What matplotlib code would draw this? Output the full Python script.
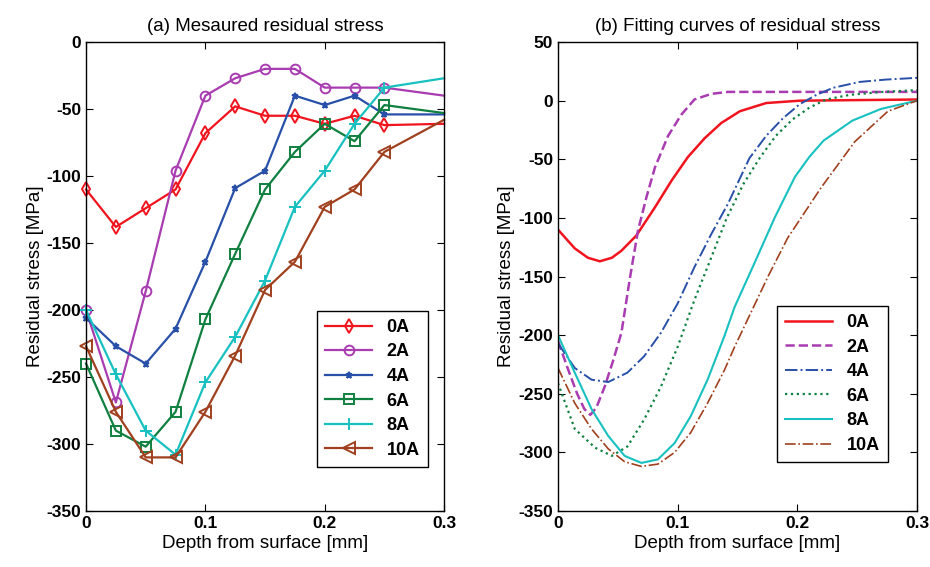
import numpy as np
import matplotlib
matplotlib.use('Agg')
import matplotlib.pyplot as plt

plt.rcParams['font.family'] = ['Liberation Sans', 'DejaVu Sans']
plt.rcParams['axes.unicode_minus'] = False

# (a) measured points, depth [mm] vs stress [MPa]
depth = [0, 0.025, 0.05, 0.075, 0.1, 0.125, 0.15, 0.175, 0.2, 0.225, 0.25, 0.3]
meas = {
    '0A': [-110, -138, -124, -110, -68, -48, -55, -55, -61, -55, -62, -61],
    '2A': [-200, -269, -186, -96, -40, -27, -20, -20, -34, -34, -34, -40],
    '4A': [-206, -227, -240, -214, -164, -109, -96, -40, -47, -40, -54, -54],
    '6A': [-240, -290, -302, -276, -207, -158, -110, -82, -61, -74, -47, -53],
    '8A': [-200, -248, -290, -308, -254, -220, -178, -123, -96, -61, -34, -27],
    '10A': [-227, -276, -310, -310, -276, -234, -185, -164, -123, -110, -82, -58],
}

# (b) fitted curves
fit_x = {
    '0A': [0, 0.014, 0.025, 0.035, 0.045, 0.053, 0.0655, 0.081, 0.095, 0.1086, 0.1226,
           0.1365, 0.152, 0.174, 0.202, 0.25, 0.3],
    '2A': [0, 0.008, 0.016, 0.022, 0.027, 0.032, 0.039, 0.046, 0.053, 0.06, 0.0668,
           0.074, 0.081, 0.092, 0.103, 0.114, 0.128, 0.142, 0.3],
    '4A': [0, 0.014, 0.028, 0.042, 0.058, 0.072, 0.086, 0.1, 0.114, 0.128, 0.142,
           0.16, 0.174, 0.188, 0.202, 0.216, 0.23, 0.252, 0.274, 0.3],
    '6A': [0, 0.014, 0.031, 0.045, 0.058, 0.072, 0.086, 0.1, 0.114, 0.128, 0.141,
           0.155, 0.1685, 0.182, 0.196, 0.21, 0.224, 0.244, 0.2715, 0.3],
    '8A': [0, 0.014, 0.028, 0.042, 0.0557, 0.0697, 0.0835, 0.0975, 0.111, 0.125,
           0.139, 0.1476, 0.164, 0.181, 0.198, 0.21, 0.222, 0.246, 0.27, 0.3],
    '10A': [0, 0.014, 0.028, 0.042, 0.0557, 0.0697, 0.0835, 0.0975, 0.111, 0.125,
            0.139, 0.1476, 0.1755, 0.192, 0.22, 0.248, 0.2757, 0.3],
}
fit_y = {
    '0A': [-110, -126, -134, -137, -134, -128, -115, -91, -68, -48, -32,
           -19, -9, -2, 0, 0.5, 1],
    '2A': [-205, -228, -250, -263, -268, -262, -244, -222, -198, -152, -111,
           -82, -57, -30, -12, 1, 5.8, 7.5, 7.5],
    '4A': [-207, -228, -238, -240, -232, -218, -198, -173, -142, -114, -88,
           -49, -30, -15, -3, 5, 11, 16, 18, 19.5],
    '6A': [-241, -280, -296, -303, -295, -272, -244, -210, -170, -134, -100,
           -71, -49, -30, -16, -6, 1, 5, 7.5, 9],
    '8A': [-200, -232, -263, -286, -303, -309, -306, -292, -269, -238,
           -201, -176, -139, -100, -65, -48, -34, -17, -7, 0],
    '10A': [-228, -258, -280, -297, -308, -312, -310, -300, -283, -258,
            -230, -210, -150, -117, -74, -35, -9, 0],
}

labels = ['0A', '2A', '4A', '6A', '8A', '10A']
colors = ['#f0141e', '#a83cb0', '#2850a8', '#108040', '#18c0c0', '#a0401e']
markers = ['d', 'o', '*', 's', '+', '<']
msizes = [7, 7, 5, 7, 8, 8]
styles = ['-', '--', '-.', ':', '-', '-.']
widths = [1.8, 1.8, 1.4, 1.6, 1.5, 1.2]

fig = plt.figure(figsize=(9.3, 5.67), dpi=100)
ax1 = fig.add_axes([0.0925, 0.0988, 0.385, 0.827])
ax2 = fig.add_axes([0.6, 0.0988, 0.386, 0.827])

for i, lab in enumerate(labels):
    ax1.plot(depth, meas[lab], color=colors[i], marker=markers[i], markersize=msizes[i],
             markerfacecolor='none', markeredgewidth=1.4, lw=1.6, label=lab,
             markevery=list(range(len(depth) - 1)), clip_on=False)
    ax2.plot(fit_x[lab], fit_y[lab], color=colors[i], ls=styles[i], lw=widths[i], label=lab)

for ax in (ax1, ax2):
    ax.set_xlim(0, 0.3)
    ax.set_xticks([0, 0.1, 0.2, 0.3])
    ax.set_xticklabels(['0', '0.1', '0.2', '0.3'])
    ax.tick_params(direction='in', top=True, right=True, labelsize=12.5, length=5)
    ax.set_xlabel('Depth from surface [mm]', fontsize=13.5, labelpad=3)
    ax.set_ylabel('Residual stress [MPa]', fontsize=13.5, labelpad=2)
    for s in ax.spines.values():
        s.set_linewidth(1.0)

ax1.set_ylim(-350, 0)
ax1.set_yticks(np.arange(-350, 1, 50))
ax2.set_ylim(-350, 50)
ax2.set_yticks(np.arange(-350, 51, 50))
for ax in (ax1, ax2):
    for t in ax.get_xticklabels() + ax.get_yticklabels():
        t.set_fontweight('bold')

ax1.set_title('(a) Mesaured residual stress', fontsize=13.5, pad=8)
ax2.set_title('(b) Fitting curves of residual stress', fontsize=13.5, pad=8)

leg_kw = dict(fancybox=False, edgecolor='black', framealpha=1, borderpad=0.45,
              borderaxespad=0, handlelength=2.6, labelspacing=0.42,
              prop={'weight': 'bold', 'size': 13})
l1 = ax1.legend(loc='lower right', bbox_to_anchor=(0.955, 0.094), **leg_kw)
l2 = ax2.legend(loc='lower right', bbox_to_anchor=(0.919, 0.1045), **leg_kw)
for l in (l1, l2):
    l.get_frame().set_linewidth(1.0)

fig.savefig('out.png', dpi=100)
